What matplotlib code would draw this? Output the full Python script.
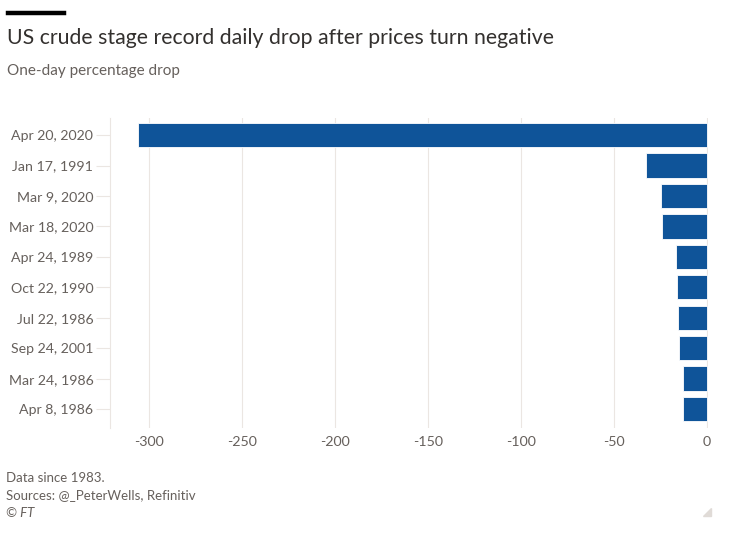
import matplotlib.pyplot as plt
from matplotlib.patches import Polygon
from matplotlib.lines import Line2D

dates = ['Apr 20, 2020', 'Jan 17, 1991', 'Mar 9, 2020', 'Mar 18, 2020', 'Apr 24, 1989',
         'Oct 22, 1990', 'Jul 22, 1986', 'Sep 24, 2001', 'Mar 24, 1986', 'Apr 8, 1986']
drops = [-306.0, -33.0, -24.6, -24.4, -16.5, -15.9, -15.4, -15.0, -12.8, -12.7]
xticks = [-300, -250, -200, -150, -100, -50, 0]

plt.rcParams['font.family'] = ['Lato', 'DejaVu Sans']
grey = '#66605c'
linecol = '#ebe6e2'

fig = plt.figure(figsize=(7.53, 5.46), dpi=100)
fig.set_facecolor('white')
ax = fig.add_axes([110 / 753, 1 - 428 / 546, 598 / 753, 310 / 546])

ypos = list(range(len(dates)))
ax.barh(ypos, drops, height=0.8, color='#0f5499', edgecolor='white', linewidth=0.6, zorder=3)

ax.set_xlim(-321, 0.6)
ax.set_ylim(9.62, -0.56)
ax.set_xticks(xticks)
ax.set_xticklabels([str(t) for t in xticks])
ax.set_yticks(ypos)
ax.set_yticklabels(dates)

for s in ['top', 'right', 'bottom']:
    ax.spines[s].set_visible(False)
ax.spines['left'].set_color(linecol)
ax.spines['left'].set_linewidth(0.8)
ax.grid(axis='x', color=linecol, linewidth=0.8, zorder=0)
ax.tick_params(axis='x', length=0, pad=6, labelsize=10.3, colors=grey)
ax.tick_params(axis='y', length=10, width=0.8, color=linecol, pad=2, labelsize=10.2, labelcolor=grey)

# header
fig.add_artist(Line2D([8 / 753, 64 / 753], [1 - 13 / 546, 1 - 13 / 546], color='black', linewidth=3.2))
fig.text(7 / 753, 1 - 38 / 546, 'US crude stage record daily drop after prices turn negative',
         fontsize=15.3, color='#33302e', va='center', ha='left')
fig.text(7 / 753, 1 - 71 / 546, 'One-day percentage drop', fontsize=11, color=grey, va='center', ha='left')

# footer
fig.text(6 / 753, 1 - 478 / 546, 'Data since 1983.', fontsize=9.5, color=grey, va='center', ha='left')
fig.text(6 / 753, 1 - 495 / 546, 'Sources: @_PeterWells, Refinitiv', fontsize=9.5, color=grey, va='center', ha='left')
fig.text(6 / 753, 1 - 513 / 546, '© FT', fontsize=9.5, color=grey, va='center', ha='left', style='italic')

fig.add_artist(Polygon([[711 / 753, 1 - 508 / 546], [711 / 753, 1 - 516 / 546], [703 / 753, 1 - 516 / 546]],
                       closed=True, color='#e0dbd7', transform=fig.transFigure))

fig.savefig('out.png', dpi=100)
